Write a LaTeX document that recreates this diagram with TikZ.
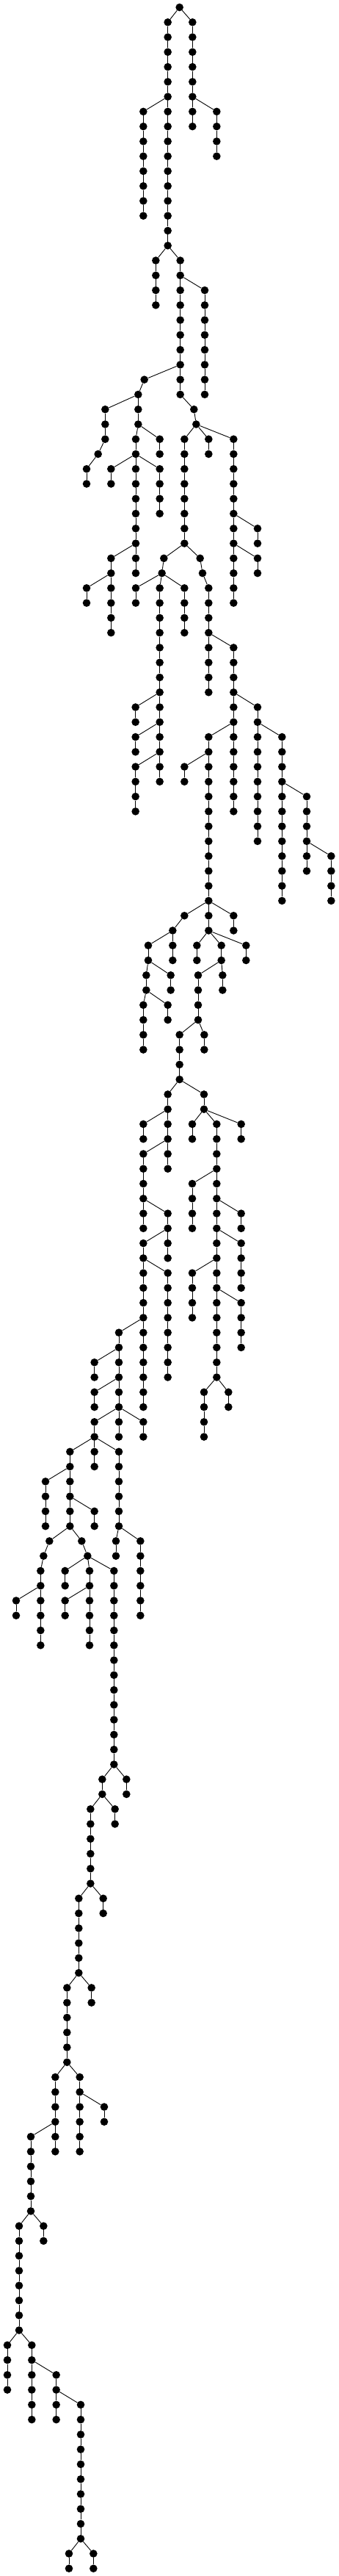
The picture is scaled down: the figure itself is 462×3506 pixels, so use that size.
\documentclass[tikz,border=0pt]{standalone}
\begin{document}
\begin{tikzpicture}[x=1pt,y=1pt,
  dot/.style={circle,fill=black,inner sep=0pt,minimum size=10.6pt},
  edge/.style={draw=black,line width=0.9pt}]
\useasboundingbox (0,0) rectangle (462,-3506);
\node[dot] (n734-0) at ({734/3},-10) {};
\foreach \xx/\ya/\yb/\ppx/\ppl in {
686/1/16/734/0, 787/1/8/734/0, 886/7/10/787/6, 586/7/14/686/6,
637/17/20/686/16, 737/17/26/686/16, 837/19/26/737/18,
590/25/25/737/24, 565/26/28/590/25, 430/27/29/565/26, 401/30/30/430/29, 354/31/32/401/30,
793/27/27/737/26, 802/28/28/793/27,
555/29/38/565/28, 653/29/30/565/28, 454/31/32/555/30, 653/31/34/555/30,
454/37/42/555/36, 354/39/40/454/38,
754/29/36/802/28, 853/29/30/802/28, 955/29/40/802/28,
1053/35/36/955/34, 1053/37/38/955/36,
670/37/37/754/36, 662/38/38/670/37, 555/39/40/662/38, 653/39/52/662/38, 754/39/42/662/38,
818/37/37/754/36, 828/38/38/818/37, 853/39/46/828/38, 955/43/54/853/42,
554/47/48/653/46, 554/49/50/653/48, 554/51/54/653/50,
1053/47/56/955/46, 853/49/62/955/48, 754/51/52/853/50,
1153/49/60/1053/48, 1254/53/58/1153/52, 1354/57/60/1254/56,
955/61/62/853/60, 754/61/61/853/60, 706/62/64/754/61, 606/63/64/706/62,
598/65/66/606/64, 698/65/66/606/64, 586/67/70/598/66, 686/67/68/598/66,
805/63/64/853/62, 905/63/64/853/62, 810/65/68/905/64, 910/65/66/905/64, 1006/63/64/853/62,
734/69/72/810/68, 835/69/70/810/68,
686/73/78/734/72, 834/73/74/734/72,
586/75/76/686/74, 586/77/82/686/76, 686/81/84/586/80, 586/83/94/686/82, 686/85/92/586/84,
786/75/76/834/74, 886/75/92/834/74, 986/75/76/834/74,
786/79/82/886/78, 986/81/82/886/80, 986/83/86/886/82, 786/85/88/886/84, 986/87/90/886/86,
834/93/96/886/92, 934/93/94/886/92,
486/89/96/586/88, 386/91/92/486/90, 386/93/94/486/92, 386/95/96/486/94, 586/95/96/486/94,
286/97/102/386/96, 386/97/98/386/96, 486/97/102/386/96,
186/99/102/286/98, 386/101/102/286/100,
202/103/103/286/102, 178/104/104/202/103, 166/105/110/178/104, 66/107/108/166/106,
334/103/103/286/102, 358/104/104/334/103, 266/105/106/358/104, 366/105/110/358/104,
266/107/108/366/106, 466/105/118/358/104,
474/103/104/486/102, 574/103/108/486/102,
517/119/120/466/118, 418/119/120/466/118, 470/121/122/418/120, 370/121/126/418/120,
422/127/128/370/126, 322/127/132/370/126, 374/133/134/322/132, 274/133/138/322/132,
226/139/144/274/138, 326/139/144/274/138, 426/141/142/326/140,
126/143/148/226/142, 178/149/150/126/148, 78/149/156/126/148,
30/157/160/78/156, 130/157/162/78/156, 230/159/162/130/158, 330/161/170/230/160,
282/171/172/330/170, 382/171/172/330/170}{
  \node[dot] (n\xx-\ya) at ({\xx/3},{-10-\ya*20.266}) {};
  \draw[edge] (n\ppx-\ppl) -- (n\xx-\ya);
  \ifnum\yb>\ya\relax
    \pgfmathtruncatemacro{\myS}{\ya+1}
    \foreach \lv in {\myS,...,\yb}{
      \pgfmathtruncatemacro{\myQ}{\lv-1}
      \node[dot] (n\xx-\lv) at ({\xx/3},{-10-\lv*20.266}) {};
      \draw[edge] (n\xx-\myQ) -- (n\xx-\lv);
    }
  \fi
}
\end{tikzpicture}
\end{document}
